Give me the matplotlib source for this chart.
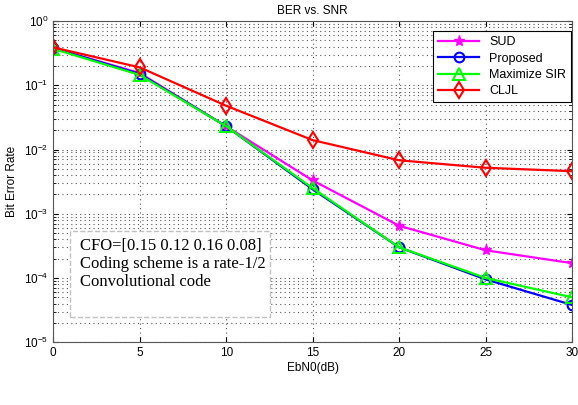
import numpy as np
import matplotlib
matplotlib.use('Agg')
import matplotlib.pyplot as plt
from matplotlib.patches import Rectangle

plt.rcParams['font.family'] = ['Liberation Sans', 'DejaVu Sans']

ebn0 = [0, 5, 10, 15, 20, 25, 30]
ber_sud = [0.38, 0.155, 0.023, 0.0033, 6.5e-4, 2.7e-4, 1.7e-4]
ber_proposed = [0.38, 0.15, 0.023, 0.0024, 3.0e-4, 9.5e-5, 3.8e-5]
ber_maxsir = [0.37, 0.145, 0.023, 0.0025, 3.0e-4, 1.0e-4, 5.0e-5]
ber_cljl = [0.39, 0.19, 0.048, 0.014, 0.0068, 0.0052, 0.0046]

fig = plt.figure(figsize=(5.78, 4.05), dpi=100)
ax = fig.add_axes([0.092, 0.155, 0.898, 0.793])

ax.semilogy(ebn0, ber_sud, color='magenta', marker='*', markersize=8, lw=1.6, label='SUD')
ax.semilogy(ebn0, ber_proposed, color='blue', marker='o', markersize=7, lw=1.6,
            markerfacecolor='none', markeredgewidth=1.5, label='Proposed')
ax.semilogy(ebn0, ber_maxsir, color='#00ff00', marker='^', markersize=8, lw=1.6,
            markerfacecolor='none', markeredgewidth=1.5, label='Maximize SIR')
ax.semilogy(ebn0, ber_cljl, color='red', marker='d', markersize=8, lw=1.6,
            markerfacecolor='none', markeredgewidth=1.5, label='CLJL')

ax.set_xlim(0, 30)
ax.set_ylim(1e-5, 1)
ax.set_xticks([0, 5, 10, 15, 20, 25, 30])
ax.grid(True, which='major', linestyle=(0, (1, 3)), color='#555555', lw=0.8)
ax.grid(True, which='minor', axis='y', linestyle=(0, (1, 3)), color='#555555', lw=0.8)
ax.tick_params(labelsize=8.5, direction='in', which='both', top=True, right=True)
for s in ax.spines.values():
    s.set_color('#555555')

ax.set_xlabel('EbN0(dB)', fontsize=8.5, labelpad=2)
ax.set_ylabel('Bit Error Rate', fontsize=8.5)
ax.set_title('BER vs. SNR', fontsize=8.5, pad=5)

leg = ax.legend(loc='upper right', bbox_to_anchor=(0.998, 0.968), fontsize=9,
                fancybox=False, framealpha=1, edgecolor='black', borderaxespad=0,
                handlelength=3.3, labelspacing=0.35, borderpad=0.4)
leg.get_frame().set_linewidth(0.8)

ax.add_patch(Rectangle((0.033, 0.078), 0.385, 0.268, transform=ax.transAxes,
                       facecolor='white', edgecolor='#c0c0c0', linestyle='--',
                       linewidth=1, zorder=4))
ax.text(0.052, 0.324, 'CFO=[0.15 0.12 0.16 0.08]\nCoding scheme is a rate-1/2\nConvolutional code',
        transform=ax.transAxes, family='Liberation Serif', fontsize=12,
        va='top', ha='left', linespacing=1.15, zorder=5)

fig.savefig('out.png', dpi=100)
